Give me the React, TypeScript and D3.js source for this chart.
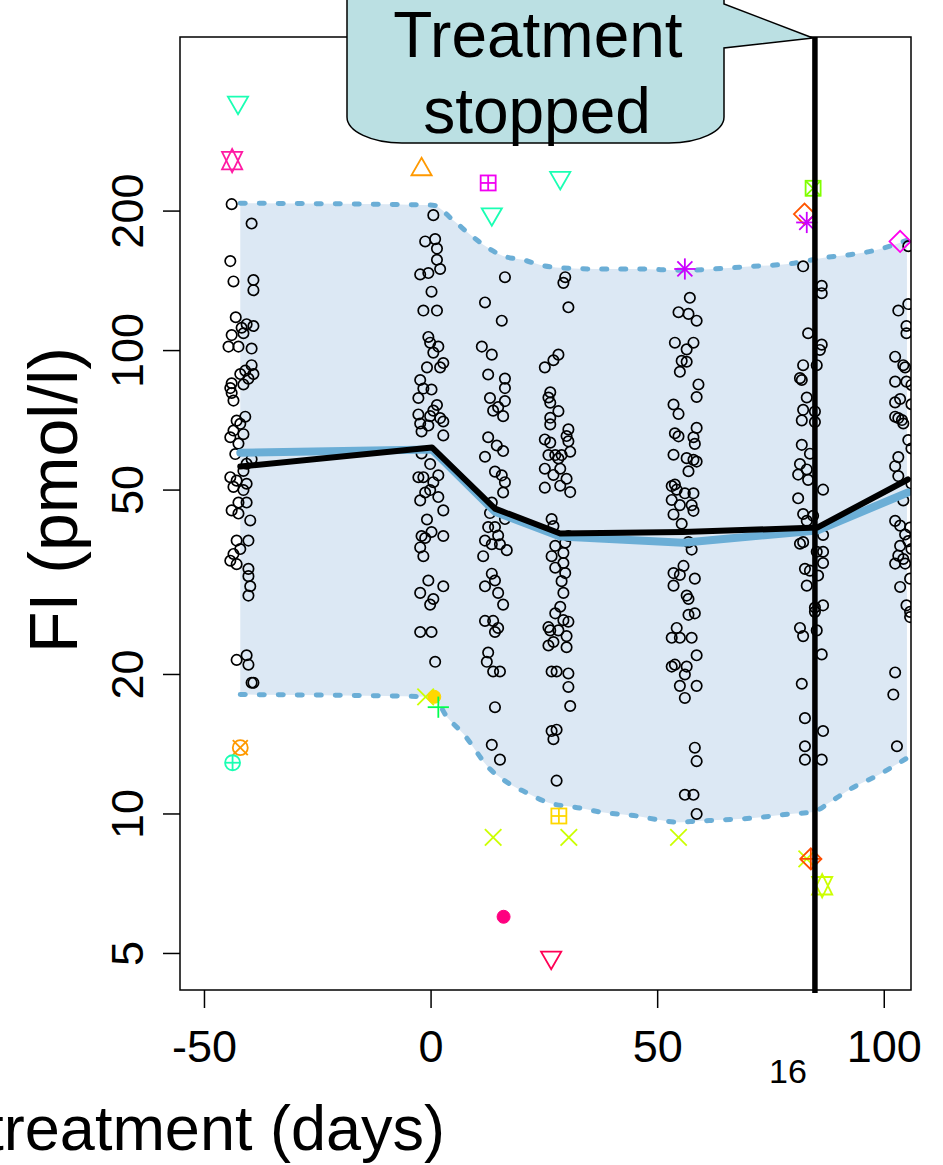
import React from 'react';
import * as d3 from 'd3';

// ---- data (day since start of treatment, FI pmol/l) ----
const VISIT_PRE: [number, number][] = [
  [-44.0,207],[-39.6,188],[-44.3,156],[-43.6,141],[-39.2,142],[-39.2,135],[-43.1,118],[-40.7,114],[-39.2,113],[-41.8,112],
  [-44.0,108],[-41.4,109],[-44.7,102],[-42.5,102],[-39.6,101],[-39.6,93],[-41.0,90.5],[-42.1,89],[-39.2,89],[-40.3,87],
  [-44.0,85],[-44.3,83],[-44.0,81],[-41.4,84.5],[-43.6,78],[-41.0,72],[-42.9,70.6],[-42.1,69.5],[-43.6,67.2],[-41.4,66],
  [-44.3,65],[-42.5,63],[-43.2,59.8],[-39.6,58.3],[-40.7,57],[-41.4,55],[-44.3,53.3],[-42.9,52.4],[-40.7,51.6],[-43.6,50.8],
  [-41.4,50],[-42.5,47],[-40.7,47],[-44.0,45.2],[-42.5,44.5],[-39.9,43],[-42.9,38.9],[-40.3,38.9],[-42.1,37.3],[-43.6,36.4],
  [-44.3,35.2],[-42.9,34.6],[-40.3,33.8],[-40.3,32.6],[-39.9,31],[-40.3,29.6],[-40.7,22],[-42.9,21.5],[-40.3,21],[-39.6,19.2],[-39.2,19.2]
];
const VISIT_D0: [number, number][] = [
  [0.5,196],[-1.3,172],[0.9,174],[1.3,166],[1.3,157],[2.0,150],[-2.4,146],[-0.6,147],[0.1,134],[-1.7,122],
  [1.3,122],[-0.6,107],[-0.2,104],[1.6,102],[0.5,99],[2.7,94],[-0.9,92],[2.0,92],[-2.4,86.4],[-1.7,82.8],
  [0.1,82.4],[-2.8,79],[1.3,76.3],[0.5,74.2],[-2.8,72.8],[-0.2,72.2],[2.0,71.5],[2.7,70.3],[-2.4,69.6],[-0.6,68.9],
  [-2.1,66.9],[2.7,65.6],[-2.1,60],[-0.2,56.9],[1.6,53.8],[-2.8,53.3],[-1.7,53.3],[0.5,52],[-1.3,49.4],[-0.2,50],
  [1.6,48.3],[-2.4,47.5],[2.7,45.2],[-0.9,43.2],[0.1,40.6],[-2.1,39.8],[-1.3,39.4],[-2.4,37.6],[2.7,39.8],[-1.7,36],
  [-0.6,31.9],[-2.4,30],[2.7,31],[0.5,29.1],[-0.2,28.3],[-2.4,24.7],[0.1,24.7],[0.9,21.3]
];
const VISIT_D14: [number, number][] = [
  [16.3,144],[11.9,127],[15.6,116],[11.2,102],[13.4,98],[12.6,88.8],[16.3,87],[13.0,79],[16.3,83],[14.8,75.5],
  [16.3,77.8],[13.7,74.2],[15.9,72.2],[12.6,65],[14.5,62.4],[15.9,60.7],[11.9,59],[14.1,54.8],[15.6,53.8],[16.3,52],
  [15.9,49.4],[13.4,47],[13.0,44.6],[16.3,43.3],[12.6,41.6],[14.1,41.6],[14.8,39.9],[11.9,38.9],[13.4,38.2],[15.2,38.2],
  [16.7,37.1],[11.5,36],[13.4,33],[14.1,31.9],[11.9,31],[14.8,30],[15.9,28.3],[11.9,26.1],[13.7,26.1],[14.8,25.2],
  [14.1,24.7],[12.6,22.3],[12.3,21.3],[13.7,20.3],[15.2,20.3],[14.1,17.0],[13.4,14.1],[15.2,13.1]
];
const VISIT_D28: [number, number][] = [
  [29.6,144],[29.2,140],[30.3,124],[28.1,98],[27.0,95.3],[25.1,92],[26.3,81.3],[25.9,79.2],[26.3,77.2],[28.1,74],
  [26.3,71.6],[30.3,67.6],[26.3,69.3],[29.9,65.4],[25.1,64.3],[30.3,63.7],[26.3,63.3],[30.7,60.5],[28.8,59.5],[27.4,59.5],
  [28.1,58.5],[25.9,59.5],[25.1,55.6],[28.5,55.6],[27.0,53.9],[29.9,52.9],[28.5,51.1],[25.1,50.6],[30.7,49.5],[26.6,43.3],
  [27.0,41.8],[30.3,39.8],[29.6,38.5],[27.4,37.9],[29.2,36.6],[26.6,36.0],[29.2,34.8],[27.4,34.0],[29.6,33.1],[28.8,31.8],
  [29.2,30],[28.5,28.0],[27.4,27.1],[29.2,26.2],[25.9,25.3],[30.3,26.0],[26.3,24.9],[28.1,24.9],[29.9,24.2],[27.0,23.5],
  [29.9,22.9],[25.9,23.1],[27.7,20.3],[26.6,20.3],[30.3,20.1],[30.3,18.8],[30.7,17.1],[26.6,15.1],[27.7,15.2],[27.0,14.5],[27.7,11.8]
];
const VISIT_D56: [number, number][] = [
  [57.1,130],[54.6,121],[56.8,120],[58.6,116],[53.8,104],[57.9,104],[56.4,100.6],[55.3,95],[56.4,94.6],[54.9,90],
  [59.0,84.5],[58.6,79.4],[53.5,76.5],[54.6,73],[53.8,66.3],[54.6,65.3],[58.6,68.1],[57.9,65],[58.2,62.9],[53.5,59.6],
  [56.4,58.6],[57.9,58.1],[58.6,57.6],[56.8,54.9],[53.8,51.4],[53.1,51],[54.2,50.1],[56.0,49.2],[57.9,49.2],[53.1,47.6],
  [54.9,46.4],[57.5,46.4],[53.5,44.3],[57.9,45.1],[55.3,42.3],[56.8,38.6],[57.5,37.2],[53.5,33.1],[55.7,34.3],[54.9,32.8],
  [58.2,32.2],[53.5,31.1],[56.4,29.6],[56.8,29.1],[58.2,27.1],[56.8,26.9],[54.2,25.2],[53.1,24.0],[54.9,24.0],[57.5,24.0],
  [58.6,22.0],[53.8,21.0],[53.1,20.8],[56.4,20.8],[56.0,20.0],[54.9,18.9],[58.6,18.9],[56.0,17.8],[58.2,13.9],[58.6,13.0],
  [56.0,11.0],[57.9,11.0],[58.6,10.0]
];
const VISIT_D84: [number, number][] = [
  [82.1,152],[86.2,138],[86.2,133],[83.2,109],[86.2,103],[85.8,100.3],[82.1,93],[85.1,93],[81.4,87.2],[81.8,86.4],
  [82.9,79.2],[82.1,74.5],[84.7,73.9],[81.8,70.7],[84.7,70.1],[81.8,62.6],[83.6,59.9],[81.4,56.9],[82.9,55.4],[81.0,54],
  [83.2,52.6],[86.5,50.1],[81.0,48],[82.1,44.4],[84.3,44.0],[82.9,42.9],[86.5,40.0],[81.4,38.3],[82.1,38.6],[85.1,36.8],
  [86.5,36.8],[86.5,34.8],[82.5,33.8],[83.6,33.5],[85.4,32.7],[82.9,31.1],[86.5,28.2],[84.7,27.9],[84.7,27.3],[81.4,25.2],
  [82.1,24.2],[85.1,24.9],[86.2,22.1],[81.8,19.1],[82.5,16.1],[86.5,15.1],[82.5,14.0],[82.5,13.1],[86.2,13.1]
];
const VISIT_D104: [number, number][] = [
  [105.3,168],[105.3,126],[103.1,122],[104.9,113],[104.9,109],[102.4,97],[104.2,93],[104.6,92],[102.4,85.7],[104.9,85.7],
  [106.0,84.3],[102.4,77.3],[103.5,78.6],[106.0,76.6],[102.4,72],[103.1,71.5],[103.9,70.8],[104.2,69.6],[105.3,64.1],[106.0,61.5],
  [103.1,58.9],[102.4,56.3],[103.1,53.6],[106.0,51.6],[104.2,47.5],[102.4,42.9],[103.5,41.9],[105.7,41.5],[104.6,40.1],[105.3,38.8],
  [103.5,37.9],[106.0,37.3],[103.1,36.1],[104.2,35.5],[102.4,34.7],[104.6,34.7],[105.7,32.2],[103.5,30.9],[104.9,28.2],[105.7,27.3],
  [105.7,26.6],[102.4,20.2],[102.0,18.1],[102.8,14.0]
];

// summary curves
const LINE_DAYS = [-42.1, 0.2, 14.1, 28.5, 55.6, 85.2, 105.2];
const MEAN_FI = [56.2, 61.8, 45.6, 40.3, 40.6, 41.5, 52.7];
const MODEL_FI = [60.2, 61.2, 44.9, 39.7, 38.5, 40.9, 49.4];

// prediction band (upper / lower)
const BAND_UP_DAYS = [-42.1, 0.4, 4.9, 8.6, 12.4, 15.9, 20.3, 24.7, 28.5, 36.8, 45.4, 56.0, 62.2, 70.8, 79.2, 87.4, 92.4, 97.3, 101.7, 105.0];
const BAND_UP_FI = [208, 206, 191, 178, 167, 160, 157, 152.5, 151, 150, 150, 149, 150, 152, 154, 159, 161, 164, 168.5, 173];
const BAND_LO_DAYS = [-42.1, 0.4, 3.5, 7.1, 13.0, 16.8, 21.2, 25.6, 32.9, 37.3, 45.4, 50.5, 54.3, 58.7, 63.1, 71.0, 79.2, 84.3, 88.0, 92.4, 99.1, 105.0];
const BAND_LO_FI = [18.1, 17.9, 16.2, 14.9, 12.5, 11.7, 11.1, 10.6, 10.3, 10.1, 9.9, 9.7, 9.6, 9.65, 9.7, 9.8, 10.0, 10.1, 10.6, 11.3, 12.2, 13.2];

// highlighted individual values: [day, FI, patient]
const OUTLIERS: [number, number, string][] = [
  [-42.6, 343, 'A'], [13.4, 197, 'A'], [28.5, 236, 'A'],
  [-43.9, 257, 'B'], [-2.1, 246, 'C'], [12.6, 230, 'D'],
  [84.3, 224, 'E'], [82.4, 197, 'F'], [82.9, 189, 'G'], [56.0, 150, 'G'],
  [103.5, 172, 'H'],
  [-1.2, 17.9, 'I'], [13.7, 8.9, 'I'], [30.4, 8.9, 'I'], [54.6, 8.9, 'I'], [82.9, 8.0, 'I'],
  [0.7, 17.9, 'J'], [1.6, 17.0, 'K'], [-42.1, 13.9, 'L'], [-43.8, 12.9, 'M'],
  [28.2, 9.9, 'N'], [16.0, 6.0, 'O'], [26.5, 4.9, 'P'], [83.8, 8.0, 'Q'], [86.3, 7.0, 'R']
];

const X_TICKS = [-50, 0, 50, 100];
const Y_TICKS = [5, 10, 20, 50, 100, 200];
const STOP_DAY = 84.7;

// styles per patient (pch, colour)
const PATIENT_STYLE: Record<string, { pch: number; col: string }> = {
  A: { pch: 6, col: '#1AFFB3' }, B: { pch: 11, col: '#FF1AA3' }, C: { pch: 2, col: '#FF9900' },
  D: { pch: 12, col: '#F200F2' }, E: { pch: 7, col: '#80FF00' }, F: { pch: 5, col: '#FF5500' },
  G: { pch: 8, col: '#CC00FF' }, H: { pch: 5, col: '#FF00EE' }, I: { pch: 4, col: '#CCFF00' },
  J: { pch: 16, col: '#FFD700' }, K: { pch: 3, col: '#00FF4D' }, L: { pch: 13, col: '#FF9900' },
  M: { pch: 10, col: '#1AFFB3' }, N: { pch: 12, col: '#FFD700' }, O: { pch: 16, col: '#FF0080' },
  P: { pch: 6, col: '#FF0055' }, Q: { pch: 9, col: '#FF4D00' }, R: { pch: 11, col: '#CCFF00' }
};

const W = 943, H = 1165;
const L = 180, R = 911, T = 37, B = 990;
const FONT = '"Liberation Sans", Arial, Helvetica, sans-serif';

function Symbol({ pch, cx, cy, col }: { pch: number; cx: number; cy: number; col: string }) {
  const Rr = 7.5;
  const sw = 1.8;
  const p = { fill: 'none', stroke: col, strokeWidth: sw };
  const line = (x1: number, y1: number, x2: number, y2: number, k: string) => (
    <line key={k} x1={x1} y1={y1} x2={x2} y2={y2} {...p} />
  );
  const tri = (up: boolean) => {
    const r = 1.5551 * Rr, xc = 0.866 * r, yc = 0.5 * r;
    return up
      ? `${cx},${cy - r} ${cx + xc},${cy + yc} ${cx - xc},${cy + yc}`
      : `${cx},${cy + r} ${cx + xc},${cy - yc} ${cx - xc},${cy - yc}`;
  };
  switch (pch) {
    case 2: return <polygon points={tri(true)} {...p} />;
    case 6: return <polygon points={tri(false)} {...p} />;
    case 11: {
      const r = 1.5551 * Rr, yc = 0.75 * r, xc = 0.866 * r;
      return (
        <g>
          <polygon points={`${cx},${cy + r} ${cx + xc},${cy - yc} ${cx - xc},${cy - yc}`} {...p} />
          <polygon points={`${cx},${cy - r} ${cx + xc},${cy + yc} ${cx - xc},${cy + yc}`} {...p} />
        </g>
      );
    }
    case 5: case 9: {
      const d = Math.SQRT2 * Rr;
      return (
        <g>
          <polygon points={`${cx - d},${cy} ${cx},${cy - d} ${cx + d},${cy} ${cx},${cy + d}`} {...p} />
          {pch === 9 && [line(cx - d, cy, cx + d, cy, 'h'), line(cx, cy - d, cx, cy + d, 'v')]}
        </g>
      );
    }
    case 7: case 12: {
      const s = Rr;
      return (
        <g>
          <rect x={cx - s} y={cy - s} width={2 * s} height={2 * s} {...p} />
          {pch === 7
            ? [line(cx - s, cy - s, cx + s, cy + s, 'a'), line(cx - s, cy + s, cx + s, cy - s, 'b')]
            : [line(cx - s, cy, cx + s, cy, 'a'), line(cx, cy - s, cx, cy + s, 'b')]}
        </g>
      );
    }
    case 3: {
      const d = Math.SQRT2 * Rr;
      return <g>{line(cx - d, cy, cx + d, cy, 'a')}{line(cx, cy - d, cx, cy + d, 'b')}</g>;
    }
    case 4: {
      const d = Rr * 1.1;
      return <g>{line(cx - d, cy - d, cx + d, cy + d, 'a')}{line(cx - d, cy + d, cx + d, cy - d, 'b')}</g>;
    }
    case 8: {
      const d = Rr, e = Math.SQRT2 * Rr;
      return (
        <g>
          {line(cx - d, cy - d, cx + d, cy + d, 'a')}{line(cx - d, cy + d, cx + d, cy - d, 'b')}
          {line(cx - e, cy, cx + e, cy, 'c')}{line(cx, cy - e, cx, cy + e, 'd')}
        </g>
      );
    }
    case 10: {
      return (
        <g>
          <circle cx={cx} cy={cy} r={Rr} {...p} />
          {line(cx - Rr, cy, cx + Rr, cy, 'a')}{line(cx, cy - Rr, cx, cy + Rr, 'b')}
        </g>
      );
    }
    case 13: {
      return (
        <g>
          <circle cx={cx} cy={cy} r={Rr} {...p} />
          {line(cx - Rr, cy - Rr, cx + Rr, cy + Rr, 'a')}{line(cx - Rr, cy + Rr, cx + Rr, cy - Rr, 'b')}
        </g>
      );
    }
    case 16: return <circle cx={cx} cy={cy} r={6.5} fill={col} stroke={col} strokeWidth={1} />;
    default: return <circle cx={cx} cy={cy} r={Rr} {...p} />;
  }
}

export default function App() {
  const x = d3.scaleLinear().domain([-55.4, 105.9]).range([L, R]);
  const y = d3.scaleLog().domain([4.17, 475]).range([B, T]);

  const visits = [VISIT_PRE, VISIT_D0, VISIT_D14, VISIT_D28, VISIT_D56, VISIT_D84, VISIT_D104];
  const allPts = visits.flat();

  const upPts: [number, number][] = BAND_UP_DAYS.map((d, i) => [x(d), y(BAND_UP_FI[i])]);
  const loPts: [number, number][] = BAND_LO_DAYS.map((d, i) => [x(d), y(BAND_LO_FI[i])]);
  const lineGen = d3.line<[number, number]>().curve(d3.curveMonotoneX);
  const upPath = lineGen(upPts) as string;
  const loPath = lineGen(loPts) as string;
  const loRev = lineGen(loPts.slice().reverse()) as string;
  const bandPath = upPath + 'L' + loRev.slice(1) + 'Z';

  const meanPath = d3.line<number>().x((_, i) => x(LINE_DAYS[i])).y((v) => y(v))(MEAN_FI) as string;
  const modelPath = d3.line<number>().x((_, i) => x(LINE_DAYS[i])).y((v) => y(v))(MODEL_FI) as string;

  const xs = x(STOP_DAY);

  return (
    <svg width={W} height={H} style={{ position: 'absolute', left: 0, top: 0, background: '#fff' }} fontFamily={FONT}>
      <defs>
        <clipPath id="plotclip">
          <rect x={L} y={T} width={R - L} height={B - T} />
        </clipPath>
      </defs>
      <g clipPath="url(#plotclip)">
        <path d={bandPath} fill="#DCE8F4" stroke="none" />
        <path d={upPath} fill="none" stroke="#6BAED6" strokeWidth={5} strokeDasharray="5 14" strokeLinecap="round" />
        <path d={loPath} fill="none" stroke="#6BAED6" strokeWidth={5} strokeDasharray="5 14" strokeLinecap="round" />
        {allPts.map((pt, i) => (
          <circle key={i} cx={x(pt[0])} cy={y(pt[1])} r={5.2} fill="none" stroke="#000" strokeWidth={1.7} />
        ))}
        <path d={modelPath} fill="none" stroke="#6BAED6" strokeWidth={8} strokeLinejoin="round" strokeLinecap="round" />
        <path d={meanPath} fill="none" stroke="#000" strokeWidth={6} strokeLinejoin="round" strokeLinecap="round" />
        {OUTLIERS.map((o, i) => {
          const st = PATIENT_STYLE[o[2]];
          return <Symbol key={i} pch={st.pch} cx={x(o[0])} cy={y(o[1])} col={st.col} />;
        })}
      </g>
      {/* plot box */}
      <rect x={L} y={T} width={R - L} height={B - T} fill="none" stroke="#000" strokeWidth={1.5} />
      {/* treatment stop line */}
      <line x1={xs} x2={xs} y1={T} y2={B + 3} stroke="#000" strokeWidth={5.5} />
      {/* y axis */}
      {Y_TICKS.map((t) => (
        <g key={t}>
          <line x1={L - 17} x2={L} y1={y(t)} y2={y(t)} stroke="#000" strokeWidth={1.5} />
          <text transform={`translate(143,${y(t)}) rotate(-90)`} textAnchor="middle" fontSize={45}>{t}</text>
        </g>
      ))}
      {/* x axis */}
      {X_TICKS.map((t) => (
        <g key={t}>
          <line x1={x(t)} x2={x(t)} y1={B} y2={B + 18} stroke="#000" strokeWidth={1.5} />
          <text x={x(t)} y={1062} textAnchor="middle" fontSize={45}>{t}</text>
        </g>
      ))}
      <text x={788} y={1083} textAnchor="middle" fontSize={34}>16</text>
      <text x={445} y={1150} textAnchor="end" fontSize={63}>treatment (days)</text>
      <text transform="translate(77,500) rotate(-90)" textAnchor="middle" fontSize={68}>FI (pmol/l)</text>
      {/* callout */}
      <path
        d={`M347,-50 L724,-50 L724,4 L${xs - 2},38 L724,48 L724,117 A55,26 0 0 1 669,143 L402,143 A55,26 0 0 1 347,117 Z`}
        fill="#BBE0E3" stroke="#000" strokeWidth={1.5}
      />
      <text x={538} y={57} textAnchor="middle" fontSize={64}>Treatment</text>
      <text x={537} y={133} textAnchor="middle" fontSize={64}>stopped</text>
    </svg>
  );
}
